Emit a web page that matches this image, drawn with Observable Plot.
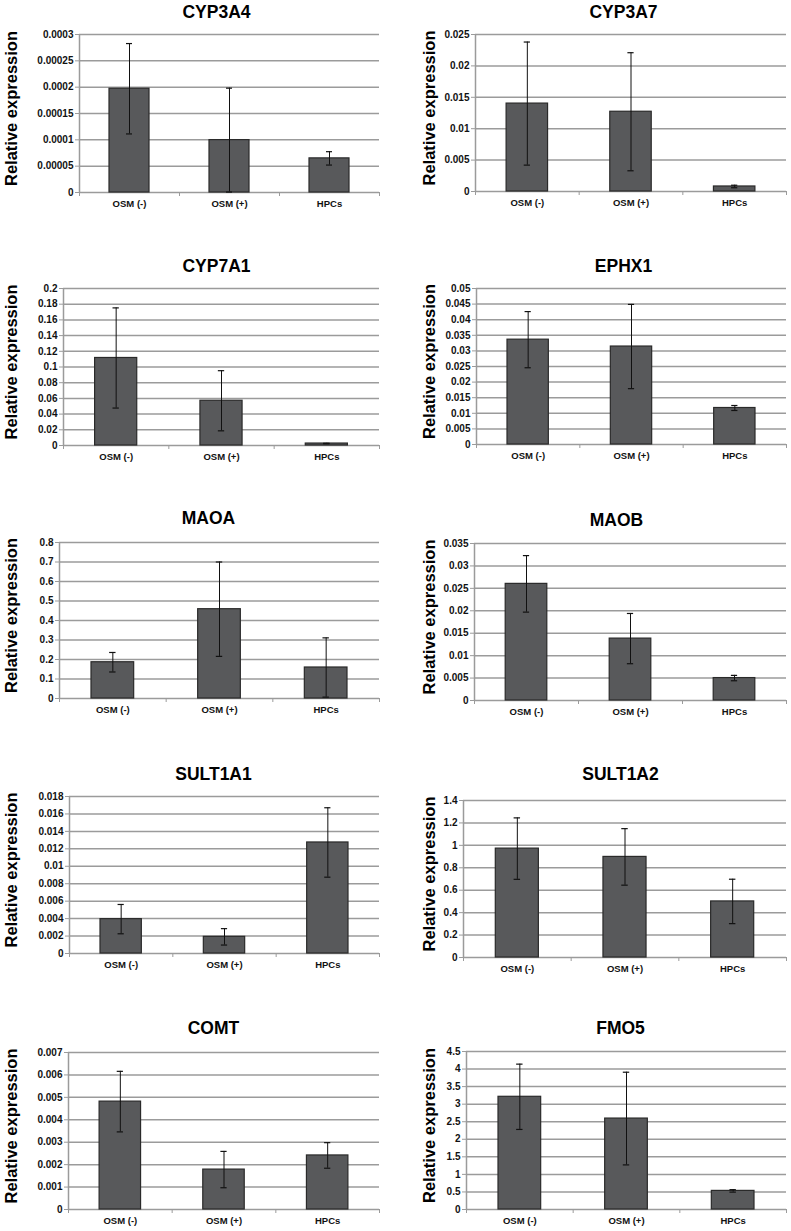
<!DOCTYPE html>
<html><head><meta charset="utf-8">
<script src="https://cdn.jsdelivr.net/npm/d3@7"></script>
<script src="https://cdn.jsdelivr.net/npm/@observablehq/plot@0.6"></script>
<style>
body{margin:0;background:#fff;}
#root{position:relative;width:791px;height:1231px;overflow:hidden;background:#fff;}
.panel{position:absolute;}
</style></head><body><div id="root"></div>
<script>
// ---- data ----
const genes = ["CYP3A4","CYP3A7","CYP7A1","EPHX1","MAOA","MAOB","SULT1A1","SULT1A2","COMT","FMO5"];
const groups = ["OSM (-)","OSM (+)","HPCs"];
const means = [
  [0.000197, 0.0000995, 0.0000648],
  [0.0140, 0.0127, 0.0008],
  [0.1115, 0.0570, 0.0025],
  [0.0336, 0.0314, 0.0117],
  [0.186, 0.458, 0.159],
  [0.0260, 0.0138, 0.0050],
  [0.00394, 0.00191, 0.01273],
  [0.971, 0.897, 0.500],
  [0.00481, 0.00178, 0.00241],
  [3.21, 2.59, 0.53]
];
const errors = [
  [0.0000858, 0.0000986, 0.0000127],
  [0.0098, 0.0094, 0.0002],
  [0.0638, 0.0383, 0.0003],
  [0.0090, 0.0135, 0.0008],
  [0.050, 0.242, 0.152],
  [0.0063, 0.0056, 0.0006],
  [0.00168, 0.00094, 0.00398],
  [0.274, 0.252, 0.198],
  [0.00135, 0.00081, 0.00057],
  [0.93, 1.32, 0.035]
];
const yMax = [0.0003, 0.025, 0.2, 0.05, 0.8, 0.035, 0.018, 1.4, 0.007, 4.5];
const yStep = [0.00005, 0.005, 0.02, 0.005, 0.1, 0.005, 0.002, 0.2, 0.001, 0.5];
const yLabel = "Relative expression";

// ---- layout (page pixels) ----
const plotTop  = [34, 34, 288, 288, 542, 543, 796, 800, 1052, 1051];
const plotZero = [192, 191, 445, 444, 698, 700, 953, 957, 1209, 1209];
const axisLeft = [79, 80, 63, 81, 59, 79, 69, 68, 68, 71];
const titleY   = [12, 12, 266, 266, 518, 520, 774, 774, 1028, 1028];
const titleX   = [216, 228, 216, 228, 208, 221, 213, 225, 213, 225];

const FONT = '"Liberation Sans", Arial, Helvetica, sans-serif';
const GRID = "#9b9b9b";
const root = document.getElementById("root");

genes.forEach((gene, gi) => {
  const col = gi % 2;
  const left = col * 395;
  const width = col ? 396 : 395;
  const marginRight = col ? 5 : 16;
  const marginTop = 34;
  const marginBottom = 26;
  const marginLeft = axisLeft[gi];
  const innerH = plotZero[gi] - plotTop[gi];
  const height = marginTop + innerH + marginBottom;
  const n = Math.round(yMax[gi] / yStep[gi]);
  const ticks = d3.range(0, n + 1).map(k => +(k * yStep[gi]).toFixed(10));
  const rows = groups.map((g, i) => ({group: g, i, mean: means[gi][i], err: errors[gi][i]}));
  const frameCenter = marginLeft + (width - marginRight - marginLeft) / 2;
  const labelBaseline = col ? 39 : 16;
  const cap = 0.03;

  const svg = Plot.plot({
    width, height, marginTop, marginBottom, marginLeft, marginRight,
    style: {fontFamily: FONT, fontWeight: "bold", fontSize: "10px", color: "#111", background: "transparent", overflow: "visible"},
    x: {domain: [0, 3]},
    y: {domain: [0, yMax[gi]]},
    marks: [
      Plot.ruleY(ticks, {stroke: GRID, strokeWidth: 1.5}),
      Plot.ruleX([0], {stroke: GRID, strokeWidth: 1.5}),
      Plot.axisY({ticks, tickSize: 4, tickPadding: 2, tickFormat: v => String(v), stroke: GRID, fill: "#111", fontSize: 10, fontWeight: "bold", label: null}),
      Plot.axisX({ticks: [0, 1, 2, 3], tickSize: 4, tickFormat: () => "", stroke: GRID, label: null}),
      Plot.axisX({ticks: [0.5, 1.5, 2.5], tickSize: 0, tickPadding: 8, tickFormat: v => groups[Math.floor(v)], fill: "#111", fontSize: 9.5, fontWeight: "bold", label: null}),
      Plot.rect(rows, {x1: d => d.i + 0.3, x2: d => d.i + 0.7, y1: 0, y2: "mean", fill: "#58595b", stroke: "#2a2a2a", strokeWidth: 1.2}),
      Plot.ruleX(rows, {x: d => d.i + 0.5, y1: d => Math.max(0, d.mean - d.err), y2: d => d.mean + d.err, stroke: "#111", strokeWidth: 1}),
      Plot.ruleY(rows, {y: d => d.mean + d.err, x1: d => d.i + 0.5 - cap, x2: d => d.i + 0.5 + cap, stroke: "#111", strokeWidth: 1.2}),
      Plot.ruleY(rows, {y: d => Math.max(0, d.mean - d.err), x1: d => d.i + 0.5 - cap, x2: d => d.i + 0.5 + cap, stroke: "#111", strokeWidth: 1.2}),
      Plot.text([gene], {frameAnchor: "top", dx: titleX[gi] - frameCenter, dy: titleY[gi] - plotTop[gi], lineAnchor: "middle", fontSize: 17.5, fontWeight: "bold", fill: "#000"}),
      Plot.text([yLabel], {frameAnchor: "left", rotate: -90, lineAnchor: "bottom", textAnchor: "middle", dx: labelBaseline - marginLeft, dy: -5, fontSize: 16.5, fontWeight: "bold", fill: "#000"})
    ]
  });
  const div = document.createElement("div");
  div.className = "panel";
  div.style.left = left + "px";
  div.style.top = (plotTop[gi] - marginTop) + "px";
  div.appendChild(svg);
  root.appendChild(div);
});
</script>
</body></html>
